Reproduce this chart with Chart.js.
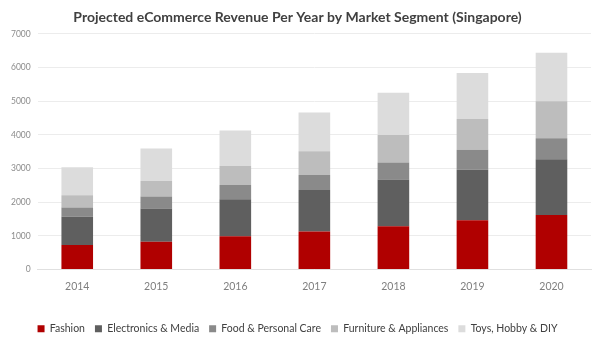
<!DOCTYPE html>
<html>
<head>
<meta charset="utf-8">
<script src="https://cdn.jsdelivr.net/npm/chart.js@4"></script>
<style>
  html, body { margin: 0; padding: 0; background: #fff; }
  #wrap { width: 600px; height: 350px; }
</style>
</head>
<body>
<div id="wrap"><canvas id="chart" width="600" height="350"></canvas></div>
<script>
const years = ['2014', '2015', '2016', '2017', '2018', '2019', '2020'];
const fashion = [730, 825, 985, 1125, 1285, 1465, 1615];
const electronics = [835, 985, 1105, 1235, 1385, 1500, 1660];
const foodCare = [280, 360, 420, 450, 510, 590, 620];
const furniture = [360, 460, 565, 705, 815, 915, 1105];
const toys = [835, 965, 1055, 1145, 1255, 1365, 1435];
const yTicks = [0, 1000, 2000, 3000, 4000, 5000, 6000, 7000];

const font = "'Lato', 'Open Sans', sans-serif";

const makeSet = (label, data, color) => ({
    label: label,
    data: data,
    backgroundColor: color,
    borderWidth: 0,
    barPercentage: 0.4,
    categoryPercentage: 1
});

const ctx = document.getElementById('chart').getContext('2d');
new Chart(ctx, {
    type: 'bar',
    data: {
        labels: years,
        datasets: [
            makeSet('Fashion', fashion, '#b00000'),
            makeSet('Electronics & Media', electronics, '#5f5f5f'),
            makeSet('Food & Personal Care', foodCare, '#8a8a8a'),
            makeSet('Furniture & Appliances', furniture, '#bdbdbd'),
            makeSet('Toys, Hobby & DIY', toys, '#dcdcdc')
        ]
    },
    options: {
        responsive: false,
        animation: false,
        layout: { padding: { left: 4, right: 9, top: 4, bottom: 6 } },
        scales: {
            x: {
                stacked: true,
                grid: { display: false, drawTicks: false },
                border: { color: '#e0e0e0' },
                ticks: { color: '#7f7f7f', font: { family: font, size: 10.5 }, padding: 11 },
                afterFit: axis => { axis.height = 44; }
            },
            y: {
                stacked: true,
                min: 0,
                max: 7000,
                afterBuildTicks: axis => { axis.ticks = yTicks.map(v => ({ value: v })); },
                grid: { color: '#ececec', drawTicks: false },
                border: { display: false },
                ticks: {
                    color: '#8c8c8c',
                    font: { family: font, size: 8.5 },
                    padding: 7,
                    callback: v => String(v)
                }
            }
        },
        plugins: {
            title: {
                display: true,
                text: 'Projected eCommerce Revenue Per Year by Market Segment (Singapore)',
                color: '#404040',
                font: { family: font, size: 14, weight: 'bold' },
                padding: { top: 5, bottom: 8 }
            },
            legend: {
                position: 'bottom',
                labels: {
                    color: '#404040',
                    font: { family: font, size: 10.5 },
                    boxWidth: 7,
                    boxHeight: 7,
                    padding: 10
                }
            },
            tooltip: { enabled: false }
        }
    }
});
</script>
</body>
</html>
